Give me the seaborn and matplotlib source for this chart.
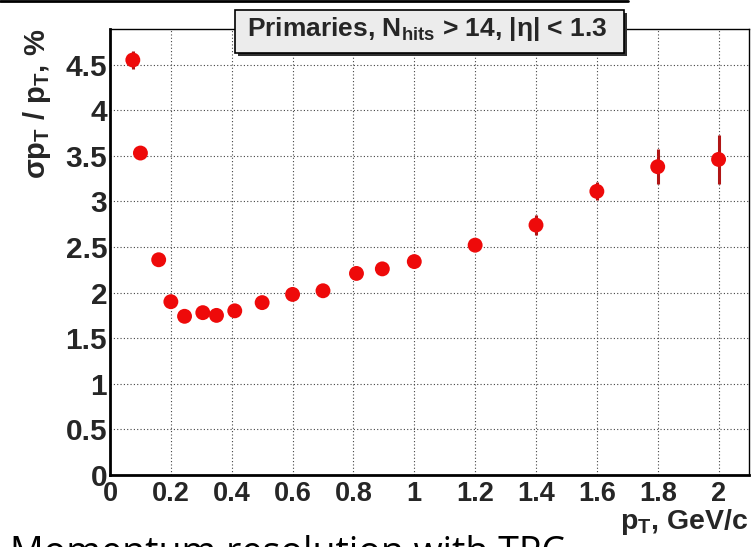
import numpy as np
import pandas as pd
import matplotlib
matplotlib.use("Agg")
import matplotlib.pyplot as plt
from matplotlib.lines import Line2D
from matplotlib.patches import Rectangle
from matplotlib.ticker import MultipleLocator, FuncFormatter
import seaborn as sns

# Transverse momentum bins (GeV/c)
pt = [0.075, 0.10, 0.16, 0.20, 0.245, 0.305, 0.35, 0.41, 0.50, 0.60,
      0.70, 0.81, 0.895, 1.00, 1.20, 1.40, 1.60, 1.80, 2.00]
# Relative momentum resolution (%)
resolution = [4.55, 3.53, 2.36, 1.90, 1.74, 1.78, 1.75, 1.80, 1.89, 1.98,
              2.02, 2.21, 2.26, 2.34, 2.52, 2.74, 3.11, 3.38, 3.46]
# Statistical uncertainty (%)
uncertainty = [0.10, 0.04, 0.03, 0.03, 0.02, 0.02, 0.02, 0.02, 0.02, 0.03,
               0.04, 0.04, 0.04, 0.05, 0.06, 0.11, 0.10, 0.19, 0.27]

df = pd.DataFrame({"pt": pt, "res": resolution, "err": uncertainty})

sns.set_style("white")
plt.rcParams["font.family"] = ["Liberation Sans", "DejaVu Sans"]
plt.rcParams["font.weight"] = "bold"
plt.rcParams["mathtext.fontset"] = "custom"
plt.rcParams["mathtext.rm"] = "Liberation Sans:bold"
plt.rcParams["mathtext.bf"] = "Liberation Sans:bold"
plt.rcParams["mathtext.it"] = "Liberation Sans:bold"
plt.rcParams["mathtext.sf"] = "Liberation Sans:bold"
plt.rcParams["mathtext.default"] = "bf"

W, H = 752, 547
fig = plt.figure(figsize=(W / 100, H / 100), dpi=100)
fig.patch.set_facecolor("white")


def fx(px):
    return px / W


def fy(py):
    return 1 - py / H


ax_l, ax_r, ax_t, ax_b = 110, 749, 29, 475
ax = fig.add_axes([fx(ax_l), fy(ax_b), fx(ax_r - ax_l), (ax_b - ax_t) / H])
ax.set_facecolor("white")

# Grid
ax.set_axisbelow(True)
ax.grid(True, which="major", color="#444444", linestyle=(0, (1, 2)), linewidth=0.8)

# Error bars and markers
ax.errorbar(df["pt"], df["res"], yerr=df["err"], fmt="none",
            ecolor="#b01515", elinewidth=2.2, capsize=0, zorder=2)
sns.scatterplot(data=df, x="pt", y="res", ax=ax, color="#ee0a0a",
                s=115, edgecolor="none", linewidth=0, zorder=3, legend=False)

ax.set_xlim(0, 2.1)
ax.set_ylim(0, 4.89)
ax.set_xlabel("")
ax.set_ylabel("")

ax.xaxis.set_major_locator(MultipleLocator(0.2))
ax.xaxis.set_minor_locator(MultipleLocator(0.05))
ax.yaxis.set_major_locator(MultipleLocator(0.5))
ax.yaxis.set_minor_locator(MultipleLocator(0.1))
fmt = FuncFormatter(lambda v, p: "%g" % round(v, 3))
ax.xaxis.set_major_formatter(fmt)
ax.yaxis.set_major_formatter(fmt)

ax.tick_params(axis="both", which="both", direction="in", color="black",
               top=False, right=False)
ax.tick_params(axis="both", which="major", length=11, width=1.2)
ax.tick_params(axis="both", which="minor", length=6.5, width=1.0)
ax.tick_params(axis="y", which="major", labelsize=21.5, pad=2)
ax.tick_params(axis="x", which="major", labelsize=19.5, pad=4.5)
for lab in ax.get_xticklabels() + ax.get_yticklabels():
    lab.set_fontweight("bold")

for side in ["left", "bottom"]:
    ax.spines[side].set_linewidth(2.0)
    ax.spines[side].set_color("black")
for side in ["top", "right"]:
    ax.spines[side].set_linewidth(1.0)
    ax.spines[side].set_color("black")
    ax.spines[side].set_visible(True)

# Axis titles
fig.text(fx(37), fy(29), r"$\sigma$p$_{T}$ / p$_{T}$, %", rotation=90,
         ha="center", va="top", fontsize=21, fontweight="bold")
fig.text(fx(748), fy(529), r"p$_{T}$, GeV/c", ha="right", va="baseline",
         fontsize=20.5, fontweight="bold")

# Title box with shadow
bx0, bx1, by0, by1 = 235, 624, 10, 53
fig.add_artist(Rectangle((fx(bx0 + 3), fy(by1 + 3)), fx(bx1 - bx0), (by1 - by0) / H,
                         transform=fig.transFigure, facecolor="#303030",
                         edgecolor="none", zorder=5))
fig.add_artist(Rectangle((fx(bx0), fy(by1)), fx(bx1 - bx0), (by1 - by0) / H,
                         transform=fig.transFigure, facecolor="#ececec",
                         edgecolor="black", linewidth=1.2, zorder=6))
fig.text(fx((bx0 + bx1) / 2 - 2), fy(36),
         r"Primaries, N$_{hits}$ > 14, |$\eta$| < 1.3",
         ha="center", va="baseline", fontsize=19, fontweight="bold", zorder=7)

# Rule across the top
fig.add_artist(Line2D([0, fx(628)], [fy(1), fy(1)], transform=fig.transFigure,
                      color="black", linewidth=2.0, zorder=8))

# Caption running off the bottom edge
fig.text(fx(10), fy(564), "Momentum resolution with TPC", ha="left",
         va="baseline", fontsize=27, fontweight="normal",
         family=["Open Sans", "DejaVu Sans"], color="black")

fig.savefig("out.png", dpi=100, facecolor="white")
